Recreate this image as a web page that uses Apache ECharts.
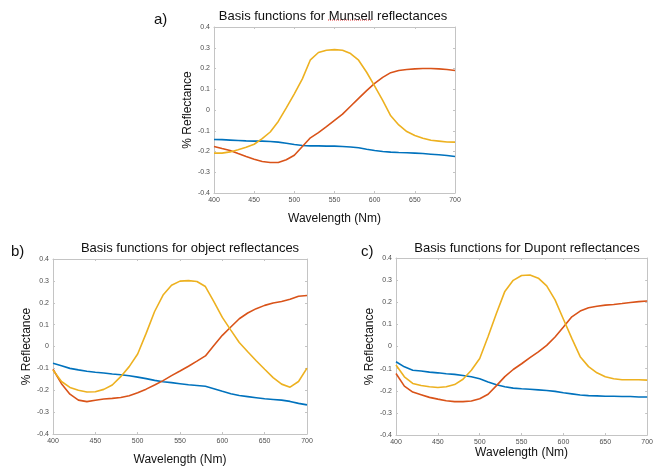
<!DOCTYPE html>
<html>
<head>
<meta charset="utf-8">
<script src="https://cdn.jsdelivr.net/npm/echarts@6/dist/echarts.min.js"></script>
<style>
  html, body { margin: 0; padding: 0; background: #fff; }
  #chart { width: 656px; height: 470px; }
</style>
</head>
<body>
<div id="chart"></div>
<script>
// wavelength samples (nm)
const wavelengths = [400, 410, 420, 430, 440, 450, 460, 470, 480, 490, 500, 510, 520, 530, 540, 550,
  560, 570, 580, 590, 600, 610, 620, 630, 640, 650, 660, 670, 680, 690, 700]
const xTicks = [400, 450, 500, 550, 600, 650, 700]
const yTicks = [-0.4, -0.3, -0.2, -0.1, 0, 0.1, 0.2, 0.3, 0.4]

// a) Munsell
const munsellBlue = [-0.142, -0.143, -0.145, -0.147, -0.149, -0.150, -0.150, -0.152, -0.155, -0.160, -0.166,
  -0.171, -0.173, -0.173, -0.174, -0.174, -0.176, -0.178, -0.182, -0.189, -0.195, -0.200, -0.203, -0.205,
  -0.206, -0.208, -0.210, -0.213, -0.216, -0.219, -0.224]
const munsellRed = [-0.176, -0.186, -0.195, -0.210, -0.224, -0.237, -0.248, -0.253, -0.253, -0.240, -0.218,
  -0.176, -0.134, -0.109, -0.080, -0.050, -0.020, 0.018, 0.056, 0.093, 0.128, 0.157, 0.180, 0.190,
  0.195, 0.198, 0.200, 0.200, 0.198, 0.195, 0.190]
const munsellYellow = [-0.208, -0.208, -0.202, -0.192, -0.180, -0.165, -0.138, -0.106, -0.055, 0.010, 0.078,
  0.150, 0.242, 0.277, 0.288, 0.291, 0.288, 0.272, 0.240, 0.182, 0.115, 0.046, -0.028, -0.072,
  -0.104, -0.123, -0.136, -0.146, -0.150, -0.154, -0.155]

// b) object
const objectBlue = [-0.077, -0.088, -0.100, -0.107, -0.113, -0.118, -0.121, -0.126, -0.129, -0.134, -0.140,
  -0.147, -0.155, -0.161, -0.165, -0.170, -0.175, -0.178, -0.182, -0.193, -0.205, -0.216, -0.224, -0.229,
  -0.234, -0.239, -0.242, -0.245, -0.251, -0.260, -0.267]
const objectRed = [-0.104, -0.170, -0.218, -0.245, -0.252, -0.246, -0.240, -0.237, -0.233, -0.225, -0.211,
  -0.195, -0.176, -0.156, -0.133, -0.112, -0.090, -0.067, -0.043, 0.005, 0.051, 0.089, 0.127, 0.153,
  0.173, 0.188, 0.199, 0.206, 0.216, 0.230, 0.233]
const objectYellow = [-0.107, -0.160, -0.187, -0.200, -0.208, -0.207, -0.196, -0.176, -0.138, -0.092, -0.034,
  0.060, 0.160, 0.235, 0.280, 0.299, 0.301, 0.297, 0.274, 0.205, 0.133, 0.075, 0.018, -0.024,
  -0.065, -0.104, -0.142, -0.172, -0.186, -0.160, -0.099]

// c) Dupont
const dupontBlue = [-0.069, -0.092, -0.107, -0.111, -0.116, -0.119, -0.123, -0.126, -0.131, -0.137, -0.146,
  -0.160, -0.173, -0.182, -0.188, -0.191, -0.193, -0.196, -0.199, -0.203, -0.209, -0.214, -0.219, -0.222,
  -0.223, -0.225, -0.225, -0.226, -0.226, -0.228, -0.228]
const dupontRed = [-0.122, -0.179, -0.206, -0.218, -0.230, -0.238, -0.245, -0.249, -0.249, -0.246, -0.236,
  -0.216, -0.177, -0.136, -0.104, -0.078, -0.050, -0.024, 0.005, 0.043, 0.088, 0.134, 0.160, 0.175,
  0.182, 0.187, 0.190, 0.194, 0.199, 0.203, 0.206]
const dupontYellow = [-0.084, -0.137, -0.167, -0.176, -0.182, -0.185, -0.182, -0.172, -0.148, -0.107, -0.054,
  0.045, 0.150, 0.249, 0.299, 0.321, 0.323, 0.309, 0.274, 0.211, 0.123, 0.037, -0.046, -0.091,
  -0.119, -0.137, -0.146, -0.150, -0.150, -0.150, -0.152]

const panels = [
  { title: 'Basis functions for Munsell reflectances', letter: 'a)', blue: munsellBlue, red: munsellRed, yellow: munsellYellow },
  { title: 'Basis functions for object reflectances', letter: 'b)', blue: objectBlue, red: objectRed, yellow: objectYellow },
  { title: 'Basis functions for Dupont reflectances', letter: 'c)', blue: dupontBlue, red: dupontRed, yellow: dupontYellow },
]

// layout of the three boxes
const boxes = [
  { left: 214, top: 27, width: 241, height: 166, titleX: 328, titleY: 5, letterX: 149, letterY: 7, xNameGap: 20, yNameGap: 18 },
  { left: 53, top: 259, width: 254, height: 175, titleX: 185, titleY: 237, letterX: 6, letterY: 239, xNameGap: 20, yNameGap: 18 },
  { left: 396, top: 258, width: 257, height: 177, titleX: 522, titleY: 237, letterX: 356, letterY: 239, xNameGap: 12, yNameGap: 19 },
]

const colors = { blue: '#0072BD', red: '#D95319', yellow: '#EDB120' }
const font = 'Liberation Sans, Arial, Helvetica, sans-serif'
const axisGrey = '#c4c4c4'
const labelGrey = '#4d4d4d'

const grid = []
const xAxis = []
const yAxis = []
const series = []
const title = []

panels.forEach((p, i) => {
  const b = boxes[i]
  grid.push({ left: b.left, top: b.top, width: b.width, height: b.height, containLabel: false })
  title.push({
    text: p.title, left: b.titleX, top: b.titleY, textAlign: 'center',
    textStyle: { fontFamily: font, fontSize: 13, fontWeight: 'normal', color: '#111' },
  })
  title.push({
    text: p.letter, left: b.letterX, top: b.letterY,
    textStyle: { fontFamily: font, fontSize: 15, fontWeight: 'normal', color: '#111' },
  })
  const common = { gridIndex: i, type: 'value' }
  const line = { show: true, onZero: false, lineStyle: { color: axisGrey, width: 1 } }
  const tick = { show: true, inside: true, length: 2, lineStyle: { color: axisGrey } }
  xAxis.push({
    ...common, min: 400, max: 700, interval: 50, position: 'bottom',
    name: 'Wavelength (Nm)', nameLocation: 'middle', nameGap: b.xNameGap,
    nameTextStyle: { fontFamily: font, fontSize: 12, color: '#111' },
    axisLine: line, axisTick: tick,
    axisLabel: { fontFamily: font, fontSize: 7, color: labelGrey, margin: 4,
      customValues: xTicks, showMinLabel: true, showMaxLabel: true },
    splitLine: { show: false },
  })
  xAxis.push({
    ...common, min: 400, max: 700, interval: 50, position: 'top',
    axisLine: line, axisTick: tick,
    axisLabel: { show: false }, splitLine: { show: false },
  })
  yAxis.push({
    ...common, min: -0.4, max: 0.4, interval: 0.1, position: 'left',
    name: '% Reflectance', nameLocation: 'middle', nameGap: b.yNameGap,
    nameTextStyle: { fontFamily: font, fontSize: 12, color: '#111' },
    axisLine: line, axisTick: tick,
    axisLabel: { fontFamily: font, fontSize: 7, color: labelGrey, margin: 4,
      formatter: (v) => {
        const t = yTicks.find((k) => Math.abs(k - v) < 1e-6)
        return t === undefined ? '' : (t === 0 ? '0' : t.toFixed(1))
      } },
    splitLine: { show: false },
  })
  yAxis.push({
    ...common, min: -0.4, max: 0.4, interval: 0.1, position: 'right',
    axisLine: line, axisTick: tick,
    axisLabel: { show: false }, splitLine: { show: false },
  })
  ;['blue', 'red', 'yellow'].forEach((c) => {
    series.push({
      type: 'line', xAxisIndex: i * 2, yAxisIndex: i * 2,
      data: wavelengths.map((w, k) => [w, p[c][k]]),
      showSymbol: false, smooth: false,
      lineStyle: { color: colors[c], width: 1.6 },
      itemStyle: { color: colors[c] },
      z: 3,
    })
  })
})

const myChart = echarts.init(document.getElementById('chart'), null, { renderer: 'canvas' })
myChart.setOption({
  animation: false,
  backgroundColor: '#fff',
  title,
  grid,
  xAxis,
  yAxis,
  series,
  // spell-check squiggle under "Munsell" in the screenshot
  graphic: [{
    type: 'line', shape: { x1: 328, y1: 20, x2: 371, y2: 20 },
    style: { stroke: '#e03030', lineWidth: 1, lineDash: [1, 1] },
  }],
})
</script>
</body>
</html>
